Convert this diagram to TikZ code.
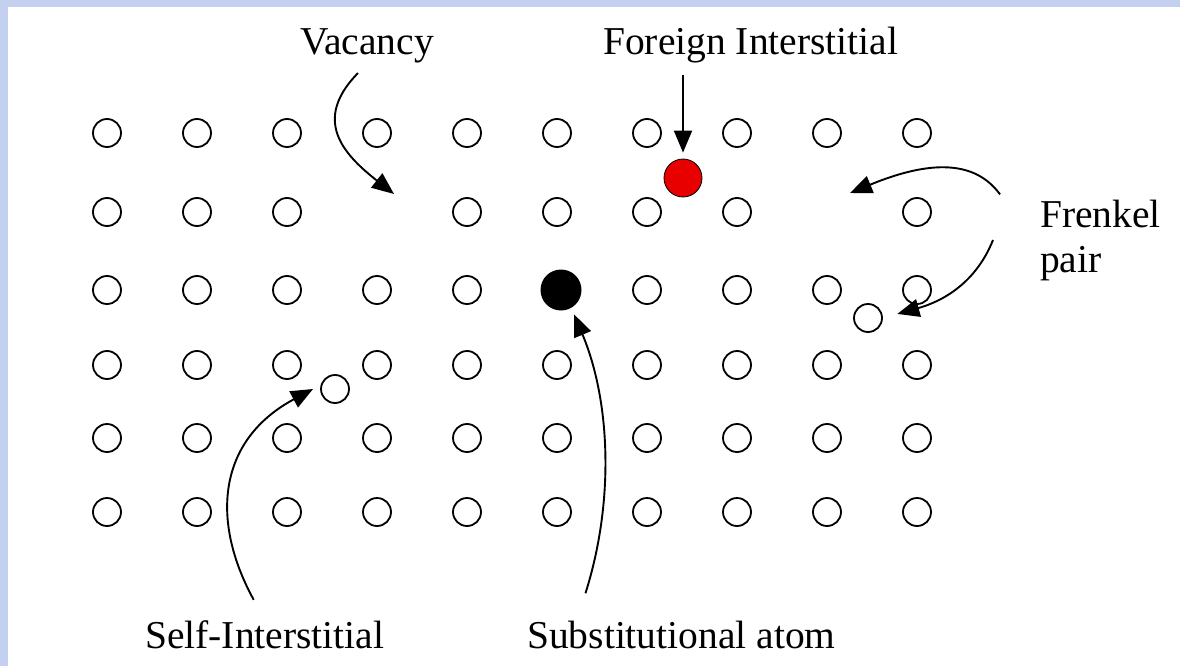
\documentclass[tikz,border=0pt]{standalone}
\usepackage{fontspec}
\setmainfont{Liberation Serif}
\usepackage{xcolor}
\usetikzlibrary{arrows.meta, positioning, calc}
\definecolor{slideblue}{RGB}{196,208,240}
\definecolor{foreignred}{RGB}{232,0,0}

\begin{document}
\begin{tikzpicture}[
    x=1pt, y=-1pt,
    atom/.style={circle, draw, line width=1.8pt, minimum size=28pt, inner sep=0pt},
    substatom/.style={circle, fill=black, minimum size=41pt, inner sep=0pt},
    foreignatom/.style={circle, draw=black, fill=foreignred, line width=0.8pt, minimum size=38pt, inner sep=0pt},
    lbl/.style={inner sep=0pt, font=\fontsize{39.5}{45}\selectfont},
    arrow/.style={-{Triangle[length=22pt, width=18pt]}, line width=1.9pt}
]
\fill[slideblue] (0,0) rectangle (1180,666);
\fill[white] (8,7) rectangle (1180,666);
\useasboundingbox (0,0) rectangle (1180,666);

% lattice, with two empty sites and one replaced site
\foreach \r/\yy in {1/133, 2/212, 3/290, 4/365, 5/438, 6/512}
  \foreach \c in {1,...,10} {
    \pgfmathtruncatemacro\gap{(\r==2)*((\c==4)+(\c==9)) + (\r==3)*(\c==6)}
    \ifnum\gap=0
      \node[atom] (a-\r-\c) at ({107+90*(\c-1)}, \yy) {};
    \fi
  }

\node[substatom] (sub) at (561,290) {};
\node[foreignatom] (fi) at (683,178) {};
\node[atom] (fint) at (868,318) {};
\node[atom] (sint) at (335,389) {};
\coordinate (vac) at (394,194);
\coordinate (fvac) at (850,193);

\node[lbl, anchor=base west] (vl) at (300,55) {Vacancy};
\node[lbl, anchor=base west] (fl) at (603,55) {Foreign Interstitial};
\node[lbl, anchor=west, align=left] (fr) at (1040,240) {Frenkel\\pair};
\node[lbl, anchor=base west] (sl) at (145,648) {Self-Interstitial};
\node[lbl, anchor=base west] (ul) at (527,648) {Substitutional atom};

\draw[arrow, shorten <=13pt] (vl.south) .. controls (312,120) and (343,154) .. (vac);
\draw[arrow, shorten <=11pt, shorten >=6pt] (fl.south -| fi) -- (fi.north);
\draw[arrow] ([xshift=-40pt, yshift=5pt]fr.north west) .. controls (975,160) and (930,160) .. (fvac);
\draw[arrow, shorten >=15pt] ([xshift=-47pt]fr.west) .. controls (975,285) and (940,302) .. (fint.east);
\draw[arrow, shorten <=23pt] (sl.north) .. controls (210,520) and (218,440) .. (313,389);
\draw[arrow, shorten <=28pt, shorten >=7pt] ([xshift=50pt]sl.north west -| ul.north west) .. controls (615,500) and (610,400) .. (sub.-60);
\end{tikzpicture}
\end{document}
